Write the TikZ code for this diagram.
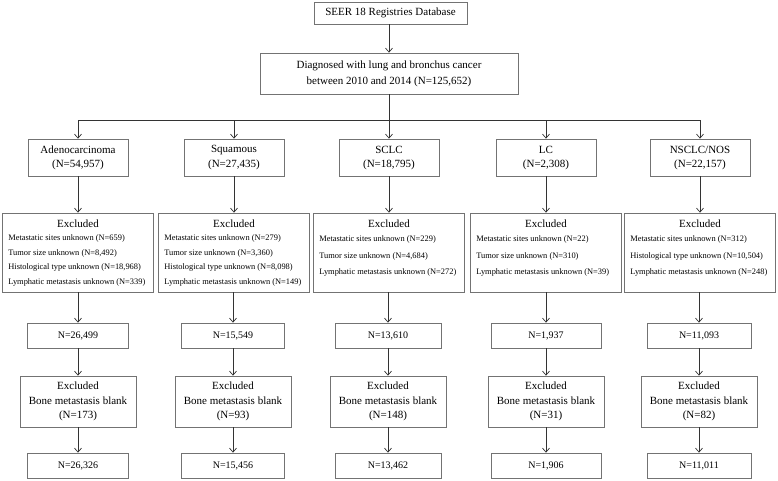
\documentclass[tikz,border=0pt]{standalone}
\usepackage{fontspec}
\setmainfont{Liberation Serif}
\usetikzlibrary{arrows.meta}
\begin{document}
\begin{tikzpicture}[x=1pt,y=-1pt,
  box/.style={draw=black!55,line width=0.7pt,inner sep=0pt,anchor=center},
  txt/.style={inner sep=0pt,font=\fontsize{11}{13}\selectfont,anchor=center},
  ntxt/.style={inner sep=0pt,font=\fontsize{10}{12}\selectfont,anchor=center},
  stxt/.style={inner sep=0pt,font=\fontsize{8.4}{10}\selectfont,anchor=west},
  conn/.style={draw=black!80,line width=0.7pt},
  arr/.style={conn,-{Straight Barb[length=4pt,width=7pt,line width=0.7pt]}}]
\useasboundingbox (0,0) rectangle (778,481);
% top
\node[box,minimum width=153pt,minimum height=22pt] (seer) at (390.5,13) {};
\node[txt] (seert) at (390.5,13) {SEER 18 Registries Database};
\node[box,minimum width=258pt,minimum height=41pt] (diag) at (389,73.5) {};
\node[txt] (diag1) at (389,66) {Diagnosed with lung and bronchus cancer};
\node[txt] (diag2) at (389,82) {between 2010 and 2014 (N=125,652)};
\draw[arr] (seer.south -| 389,0) -- (diag.north -| 389,0);
\coordinate (j) at (389,120);
\draw[conn] (diag.south -| 389,0) -- (j);
% columns: centers 78, 234, 389, 546, 700
% level 1
\foreach \n/\c/\a/\b in {a/78/Adenocarcinoma/(N=54{,}957),
                         s/234/Squamous/(N=27{,}435),
                         c/389/SCLC/(N=18{,}795),
                         l/546/LC/(N=2{,}308),
                         o/700/NSCLC\slash NOS/(N=22{,}157)}{
  \node[box,minimum width=100pt,minimum height=37pt] (\n1) at (\c,157.5) {};
  \node[txt] (\n1a) at (\c,150) {\a};
  \node[txt] (\n1b) at (\c,165) {\b};
  \draw[arr] (j) -| (\n1.north);
  % level 2 box
  \node[box,minimum width=151pt,minimum height=79pt] (\n2) at (\c,252.5) {};
  \node[txt] (\n2t) at (\c,224) {Excluded};
  \draw[arr] (\n1.south) -- (\n2.north);
}
% level 2 texts
\node[stxt] (a2l1) at ([xshift=6pt]a2.west |- 0,238) {Metastatic sites unknown (N=659)};
\node[stxt] (a2l2) at ([xshift=6pt]a2.west |- 0,253) {Tumor size unknown (N=8,492)};
\node[stxt] (a2l3) at ([xshift=6pt]a2.west |- 0,267) {Histological type unknown (N=18,968)};
\node[stxt] (a2l4) at ([xshift=6pt]a2.west |- 0,282) {Lymphatic metastasis unknown (N=339)};
\node[stxt] (s2l1) at ([xshift=6pt]s2.west |- 0,238) {Metastatic sites unknown (N=279)};
\node[stxt] (s2l2) at ([xshift=6pt]s2.west |- 0,253) {Tumor size unknown (N=3,360)};
\node[stxt] (s2l3) at ([xshift=6pt]s2.west |- 0,267) {Histological type unknown (N=8,098)};
\node[stxt] (s2l4) at ([xshift=6pt]s2.west |- 0,282) {Lymphatic metastasis unknown (N=149)};
\node[stxt] (c2l1) at ([xshift=6pt]c2.west |- 0,239) {Metastatic sites unknown (N=229)};
\node[stxt] (c2l2) at ([xshift=6pt]c2.west |- 0,256) {Tumor size unknown (N=4,684)};
\node[stxt] (c2l3) at ([xshift=6pt]c2.west |- 0,272) {Lymphatic metastasis unknown (N=272)};
\node[stxt] (l2l1) at ([xshift=6pt]l2.west |- 0,239) {Metastatic sites unknown (N=22)};
\node[stxt] (l2l2) at ([xshift=6pt]l2.west |- 0,256) {Tumor size unknown (N=310)};
\node[stxt] (l2l3) at ([xshift=6pt]l2.west |- 0,272) {Lymphatic metastasis unknown (N=39)};
\node[stxt] (o2l1) at ([xshift=6pt]o2.west |- 0,239) {Metastatic sites unknown (N=312)};
\node[stxt] (o2l2) at ([xshift=6pt]o2.west |- 0,256) {Histological type unknown (N=10,504)};
\node[stxt] (o2l3) at ([xshift=6pt]o2.west |- 0,272) {Lymphatic metastasis unknown (N=248)};
% levels 3-5
\foreach \n/\c/\wa/\na/\nb/\nc in {a/78/101/26{,}499/173/26{,}326,
                                 s/233/103/15{,}549/93/15{,}456,
                                 c/388/106/13{,}610/148/13{,}462,
                                 l/546/110/1{,}937/31/1{,}906,
                                 o/699/104/11{,}093/82/11{,}011}{
  \node[box,minimum width=\wa pt,minimum height=25pt] (\n3) at (\c,335.5) {};
  \node[ntxt] (\n3t) at (\c,335.5) {N=\na};
  \node[box,minimum width=116pt,minimum height=51pt] (\n4) at (\c,401.5) {};
  \node[txt] (\n4a) at (\c,386) {Excluded};
  \node[txt] (\n4b) at (\c,401) {Bone metastasis blank};
  \node[txt] (\n4c) at (\c,416) {(N=\nb)};
  \node[box,minimum width=\wa pt,minimum height=25pt] (\n5) at (\c,465.5) {};
  \node[ntxt] (\n5t) at (\c,465.5) {N=\nc};
  \draw[arr] (\n2.south -| \n3.north) -- (\n3.north);
  \draw[arr] (\n3.south) -- (\n4.north);
  \draw[arr] (\n4.south) -- (\n5.north);
}
\end{tikzpicture}
\end{document}
